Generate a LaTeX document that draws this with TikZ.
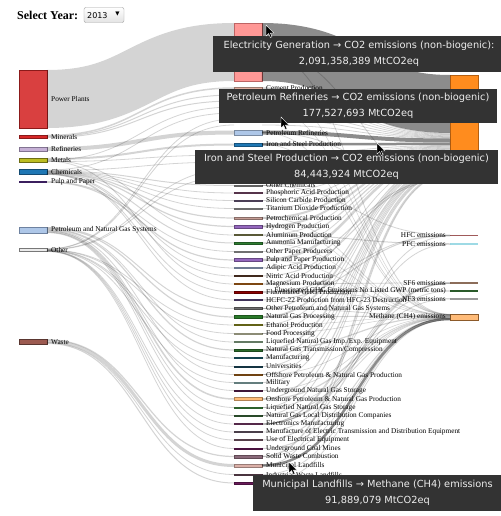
\documentclass[tikz,border=0pt]{standalone}
\usepackage{fontspec}
\setmainfont{Liberation Serif}
\newfontfamily\tipfont{DejaVu Sans}
\definecolor{tipbg}{HTML}{333333}
\tikzset{
  lnk/.style={draw=black, draw opacity=0.17},
  hl/.style={draw=black, draw opacity=0.45},
  nd/.style={rectangle, inner sep=0pt, outer sep=0pt, minimum width=28pt},
  lab/.style={font=\fontsize{7.3}{8}\selectfont, inner sep=0pt, anchor=west},
  rlab/.style={font=\fontsize{7.3}{8}\selectfont, inner sep=0pt, anchor=east},
  tip/.style={fill=tipbg, inner sep=0pt, align=center, text=white!93!black,
     font=\tipfont\fontsize{9.8}{16}\selectfont},
}
\newcommand\lkL[5][lnk]{\draw[#1, line width=#5pt] ([yshift=-#3pt]#2.north east) .. controls +(93.5,0) and +(-93.5,0) .. (#4.west);}
\newcommand\lkR[5][lnk]{\draw[#1, line width=#5pt] (#2.east) .. controls +(94,0) and +(-94,0) .. ([yshift=-#4pt]#3.north west);}
\newcommand\mycur[2]{\filldraw[fill=black, draw=white, line width=0.4pt, shift={(#1,#2)}] (0,0) -- (0,11) -- (2.6,8.5) -- (4.4,12.5) -- (6,11.8) -- (4.3,8) -- (7.8,8) -- cycle;}
\begin{document}
\begin{tikzpicture}[x=1pt,y=-1pt]
\useasboundingbox (0,0) rectangle (500,516);
\fill[white] (0,0) rectangle (500,516);

% ---------- header
\node[font=\bfseries\fontsize{12}{14}\selectfont, anchor=west, inner sep=0pt] (sel) at (17,15) {Select Year:};
\node[draw=gray!75, rounded corners=2pt, top color=white, bottom color=gray!22, minimum width=40pt, minimum height=15pt, inner sep=0pt] (yr) at (104,15) {};
\node[font=\tipfont\fontsize{8}{9}\selectfont, anchor=west, inner sep=0pt] (yrt) at (87,15.5) {2013};
\node[font=\tipfont\fontsize{5.5}{6}\selectfont, inner sep=0pt] (yra) at (117.5,14.5) {▼};

% ---------- left nodes
\node[nd, minimum height=58pt, fill={rgb,255:red,217;green,64;blue,64}, draw={rgb,255:red,139;green,26;blue,26}, line width=0.6pt] (pp) at (33,99) {};
\node[nd, minimum height=3pt, fill={rgb,255:red,214;green,39;blue,40}, draw={rgb,255:red,139;green,26;blue,26}, line width=0.4pt] (mnr) at (33,136.5) {};
\node[nd, minimum height=4pt, fill={rgb,255:red,197;green,176;blue,213}, draw={rgb,255:red,130;green,115;blue,145}, line width=0.4pt] (rfn) at (33,149) {};
\node[nd, minimum height=4pt, fill={rgb,255:red,188;green,189;blue,34}, draw={rgb,255:red,110;green,110;blue,20}, line width=0.4pt] (mtl) at (33,160) {};
\node[nd, minimum height=5pt, fill={rgb,255:red,31;green,119;blue,180}, draw={rgb,255:red,20;green,75;blue,115}, line width=0.4pt] (chm) at (33,172) {};
\node[nd, minimum height=1.5pt, fill={rgb,255:red,59;green,31;blue,94}] (pap) at (33,182) {};
\node[nd, minimum height=6pt, fill={rgb,255:red,174;green,199;blue,232}, draw={rgb,255:red,110;green,130;blue,160}, line width=0.4pt] (png) at (33,230) {};
\node[nd, minimum height=3pt, fill={rgb,255:red,235;green,235;blue,235}, draw={rgb,255:red,120;green,120;blue,120}, line width=0.5pt] (oth) at (33,250) {};
\node[nd, minimum height=4.5pt, fill={rgb,255:red,156;green,90;blue,80}, draw={rgb,255:red,90;green,54;blue,48}, line width=0.5pt] (wst) at (33,341.5) {};

% ---------- middle nodes (invisible helpers under the tooltips)
\foreach \nm/\y in {h95/95,h101/101,h107/107,h113/113,h119/119,h125/125,h155/155,h162/162,h169/169,h176/176}
  \node[nd, minimum height=1pt] (\nm) at (248,\y) {};
\node[nd, minimum height=58pt, fill={rgb,255:red,255;green,152;blue,150}, draw={rgb,255:red,190;green,100;blue,100}, line width=0.5pt] (elec) at (248,52) {};
\foreach \nm/\y/\hh/\cc in {
 cem/88/2.2/E0AFA0, pr/132.5/4.5/AEC7E8, is/144.5/2.5/1F77B4, oc/185.5/1.2/8C8C8C,
 phos/193/1.2/7B4A6B, sic/200.5/1.2/6B5A7B, tio/208.5/1.2/9A9A9A, pch/218/2.5/C49C94,
 hyd/226.5/2.5/9467BD, alu/235/1.2/7F7F4F, amm/243/1.5/2E7D32, opp/251.5/1.2/A0A0A0,
 ppp/260/3/9467BD, adi/268/1.2/9FB0D0, nit/276/1.2/5B3A29, mag/284/1.2/B3661A,
 fgp/292/1.5/8B0000, hcf/300/1.2/5B4A80, opn/308.5/2/6E6E6E, ngp/317/3/2A7A2A,
 eth/325/1.2/8C8C20, fpr/333.5/1.2/C8C8A8, lng/342/1.2/8FAE8F, ngt/350/2.5/2A6A2A,
 man/358/1.2/1D5E6E, uni/366.5/1.2/1D4A5E, off/374.5/1.2/A0601A, mil/382.5/1.2/8FB4B4,
 ugs/390.5/1.2/5A2050, ons/399/3/FFBB78, lns/407.5/1.2/3F8A3F, ldc/415.5/1.2/3A6A3A,
 elm/424/1.2/7A3A6A, etd/432/1.2/6A5A6A, uee/440/1.2/7A5A6A, ucm/448.5/1.5/6A1A5A,
 swc/456.5/2.5/8A6A7A, mlf/465.5/3/DBB0A8, iwl/474.5/1.2/6A4A5A, x483/483/1.5/6A1A5A}
 {
  \edef\tmp{\noexpand\definecolor{tmpc}{HTML}{\cc}}\tmp
  \node[nd, minimum height=\hh pt, fill=tmpc, draw=tmpc!70!black, line width=0.3pt] (\nm) at (248,\y) {};
 }

% ---------- right nodes
\node[nd, minimum height=100pt, fill={rgb,255:red,255;green,140;blue,30}, draw={rgb,255:red,179;green,95;blue,18}, line width=0.5pt] (co2) at (464,125) {};
\node[nd, minimum height=4pt] (n2o) at (464,180) {};
\node[nd, minimum height=1.5pt, fill={rgb,255:red,160;green,90;blue,90}] (hfc) at (464,235.5) {};
\node[nd, minimum height=1.5pt, fill={rgb,255:red,158;green,218;blue,229}] (pfc) at (464,244) {};
\node[nd, minimum height=1.2pt, fill={rgb,255:red,140;green,109;blue,90}] (sf6) at (464,283) {};
\node[nd, minimum height=1.2pt, fill={rgb,255:red,42;green,90;blue,42}] (fgw) at (464,291) {};
\node[nd, minimum height=1.2pt, fill={rgb,255:red,153;green,153;blue,153}] (nf3) at (464,299) {};

% ---------- links left -> middle
\lkL{pp}{29}{elec}{58}
\lkL{mnr}{0.5}{cem}{1.5} \lkL{mnr}{1.5}{h95}{1} \lkL{mnr}{2.5}{h101}{1}
\lkL{rfn}{2}{pr}{4}
\lkL{mtl}{1}{is}{2} \lkL{mtl}{2}{h107}{0.8} \lkL{mtl}{2.6}{alu}{0.8} \lkL{mtl}{3.2}{mag}{0.8} \lkL{mtl}{3.6}{h155}{0.8}
\lkL{chm}{0.5}{h113}{0.8} \lkL{chm}{1}{h162}{0.8} \lkL{chm}{1.5}{oc}{1} \lkL{chm}{2}{phos}{0.8}
\lkL{chm}{2.3}{sic}{0.8} \lkL{chm}{2.6}{tio}{0.8} \lkL{chm}{3}{pch}{1.2} \lkL{chm}{3.5}{hyd}{1.2}
\lkL{chm}{3.9}{amm}{1} \lkL{chm}{4.2}{adi}{0.8} \lkL{chm}{4.5}{nit}{0.8} \lkL{chm}{4.7}{fgp}{0.8} \lkL{chm}{4.9}{hcf}{0.8}
\lkL{pap}{0.5}{opp}{0.8} \lkL{pap}{1}{ppp}{1.2}
\lkL{png}{0.5}{opn}{1} \lkL{png}{1.2}{ngp}{1.2} \lkL{png}{2}{lng}{0.8} \lkL{png}{2.6}{ngt}{1.2}
\lkL{png}{3.3}{off}{0.8} \lkL{png}{3.9}{ugs}{0.8} \lkL{png}{4.5}{ons}{1.5} \lkL{png}{5.2}{lns}{0.8} \lkL{png}{5.7}{ldc}{0.8}
\lkL{oth}{0.3}{h119}{0.8} \lkL{oth}{0.6}{h125}{0.8} \lkL{oth}{0.9}{h169}{0.8} \lkL{oth}{1.2}{h176}{0.8}
\lkL{oth}{1.4}{eth}{0.8} \lkL{oth}{1.6}{fpr}{0.8} \lkL{oth}{1.8}{man}{0.8} \lkL{oth}{2}{uni}{0.8}
\lkL{oth}{2.2}{mil}{0.8} \lkL{oth}{2.4}{elm}{0.8} \lkL{oth}{2.6}{etd}{0.8} \lkL{oth}{2.8}{uee}{0.8} \lkL{oth}{3}{ucm}{0.8}
\lkL{wst}{0.5}{swc}{1.2} \lkL{wst}{2}{mlf}{3} \lkL{wst}{3.5}{iwl}{0.8} \lkL{wst}{4.2}{x483}{1}

% ---------- links middle -> right
\lkR[hl]{elec}{co2}{29}{58}
\lkR{cem}{co2}{58.6}{1.2}
\lkR{h95}{co2}{59.5}{0.8} \lkR{h101}{co2}{60.3}{0.8} \lkR{h107}{co2}{61}{0.8}
\lkR{h113}{co2}{61.7}{0.8} \lkR{h119}{co2}{62.4}{0.8} \lkR{h125}{co2}{63}{0.8}
\lkR[hl]{pr}{co2}{65.5}{4}
\lkR[hl]{is}{co2}{68.8}{2.5}
\lkR{h155}{co2}{70.5}{0.8} \lkR{h162}{co2}{71.3}{0.8} \lkR{h169}{co2}{72}{0.8} \lkR{h176}{co2}{72.7}{0.8}
\lkR{oc}{co2}{73.5}{1} \lkR{phos}{co2}{74.3}{0.8} \lkR{sic}{co2}{75}{0.8} \lkR{tio}{co2}{75.7}{0.8}
\lkR{pch}{co2}{77}{2} \lkR{hyd}{co2}{79}{2} \lkR{alu}{co2}{80.5}{0.8} \lkR{amm}{co2}{81.5}{1.2}
\lkR{opp}{co2}{82.5}{0.8} \lkR{ppp}{co2}{84}{2.5} \lkR{mag}{co2}{85.5}{0.8} \lkR{opn}{co2}{86.5}{1}
\lkR{ngp}{co2}{88}{1.8} \lkR{eth}{co2}{89.3}{0.8} \lkR{fpr}{co2}{90}{0.8} \lkR{ngt}{co2}{91.2}{1.5}
\lkR{man}{co2}{92.3}{0.8} \lkR{uni}{co2}{93}{0.8} \lkR{off}{co2}{93.7}{0.8} \lkR{mil}{co2}{94.4}{0.8}
\lkR{ons}{co2}{95.5}{1.2} \lkR{lns}{co2}{96.5}{0.8} \lkR{ldc}{co2}{97.2}{0.8} \lkR{swc}{co2}{98.3}{1.5} \lkR{mlf}{co2}{99.3}{0.8}
\lkR{adi}{n2o}{0.5}{1} \lkR{nit}{n2o}{1.5}{1} \lkR{elec}{n2o}{2.5}{0.8} \lkR{pr}{n2o}{3}{0.8}
\lkR{oc}{hfc}{0.3}{0.8} \lkR{fgp}{hfc}{0.6}{0.8} \lkR{hcf}{hfc}{0.9}{1} \lkR{elm}{hfc}{1.2}{0.8}
\lkR{alu}{pfc}{0.5}{1} \lkR{elm}{pfc}{1}{0.8}
\lkR{mag}{sf6}{0.3}{0.8} \lkR{elm}{sf6}{0.5}{0.8} \lkR{etd}{sf6}{0.8}{0.8} \lkR{uee}{sf6}{1}{1}
\lkR{fgp}{fgw}{0.4}{0.8} \lkR{elm}{fgw}{0.8}{0.8}
\lkR{fgp}{nf3}{0.3}{0.6} \lkR{elm}{nf3}{0.6}{0.8}
\node[nd, minimum height=6pt, fill={rgb,255:red,255;green,187;blue,120}, draw={rgb,255:red,140;green,90;blue,42}, line width=0.5pt] (ch4) at (464,317) {};
\lkR{elec}{ch4}{0.3}{0.8} \lkR{pr}{ch4}{0.6}{0.6} \lkR{is}{ch4}{0.8}{0.6} \lkR{cem}{ch4}{0.4}{0.5}
\lkR{h107}{ch4}{0.5}{0.5} \lkR{pch}{ch4}{1}{0.6} \lkR{hyd}{ch4}{1.05}{0.5} \lkR{amm}{ch4}{1.1}{0.5}
\lkR{ppp}{ch4}{1.2}{0.6} \lkR{opn}{ch4}{1.5}{0.8} \lkR{ngp}{ch4}{1.9}{1} \lkR{fpr}{ch4}{2.1}{0.6}
\lkR{eth}{ch4}{2.2}{0.5} \lkR{ngt}{ch4}{2.5}{1.2} \lkR{off}{ch4}{2.8}{0.6} \lkR{ugs}{ch4}{3}{0.6}
\lkR{ons}{ch4}{3.5}{1.2} \lkR{lns}{ch4}{3.8}{0.5} \lkR{ldc}{ch4}{4}{0.8} \lkR{ucm}{ch4}{4.4}{1}
\lkR{swc}{ch4}{4.7}{0.6} \lkR[hl]{mlf}{ch4}{5}{2.5} \lkR{iwl}{ch4}{5.5}{0.8} \lkR{x483}{ch4}{5.8}{0.8}

% ---------- labels
\node[lab] (lpp) at (51,99) {Power Plants};
\node[lab] (lmnr) at (51,136.8) {Minerals};
\node[lab] (lrfn) at (51,148.5) {Refineries};
\node[lab] (lmtl) at (51,160) {Metals};
\node[lab] (lchm) at (51,172) {Chemicals};
\node[lab] (lpap) at (51,182) {Pulp and Paper};
\node[lab] (lpng) at (51,230) {Petroleum and Natural Gas Systems};
\node[lab] (loth) at (51,250) {Other};
\node[lab] (lwst) at (51,342) {Waste};
\foreach \nm/\y/\tx in {
 cem/88/Cement Production, pr/132.5/Petroleum Refineries, is/144.5/Iron and Steel Production,
 oc/185.5/Other Chemicals, phos/193/Phosphoric Acid Production, sic/200.5/Silicon Carbide Production,
 tio/208.5/Titanium Dioxide Production, pch/218/Petrochemical Production, hyd/226.5/Hydrogen Production,
 alu/235/Aluminum Production, amm/243/Ammonia Manufacturing, opp/251.5/Other Paper Producers,
 ppp/260/Pulp and Paper Production, adi/268/Adipic Acid Production, nit/276/Nitric Acid Production,
 mag/284/Magnesium Production, fgp/292/Fluorinated GHG Production,
 hcf/300/HCFC-22 Production from HFC-23 Destruction, opn/308.5/Other Petroleum and Natural Gas Systems,
 ngp/317/Natural Gas Processing, eth/325/Ethanol Production, fpr/333.5/Food Processing,
 lng/342/Liquefied Natural Gas Imp.\slash Exp. Equipment, ngt/350/Natural Gas Transmission\slash Compression,
 man/358/Manufacturing, uni/366.5/Universities, off/374.5/Offshore Petroleum \& Natural Gas Production,
 mil/382.5/Military, ugs/390.5/Underground Natural Gas Storage, ons/399/Onshore Petroleum \& Natural Gas Production,
 lns/407.5/Liquefied Natural Gas Storage, ldc/415.5/Natural Gas Local Distribution Companies,
 elm/424/Electronics Manufacturing, etd/432/Manufacture of Electric Transmission and Distribution Equipment,
 uee/440/Use of Electrical Equipment, ucm/448.5/Underground Coal Mines, swc/456.5/Solid Waste Combustion,
 mlf/465.5/Municipal Landfills, iwl/474.5/Industrial Waste Landfills}
 { \node[lab] (l\nm) at (266,\y) {\tx}; }
\node[rlab] (lhfc) at (446,235.5) {HFC emissions};
\node[rlab] (lpfc) at (446,244) {PFC emissions};
\node[rlab] (lsf6) at (446,283) {SF6 emissions};
\node[rlab] (lfgw) at (446,291) {Fluorinated GHG Emissions No Listed GWP (metric tons)};
\node[rlab] (lnf3) at (446,299) {NF3 emissions};
\node[rlab] (lch4) at (446,317) {Methane (CH4) emissions};

% ---------- tooltips
\node[tip, minimum width=292pt, minimum height=36pt] (t1) at (359,54) {Electricity Generation → CO2 emissions (non-biogenic):\\2,091,358,389 MtCO2eq};
\node[tip, minimum width=278pt, minimum height=34pt] (t2) at (358,106) {Petroleum Refineries → CO2 emissions (non-biogenic)\\177,527,693 MtCO2eq};
\node[tip, minimum width=303pt, minimum height=34pt] (t3) at (346.5,167) {Iron and Steel Production → CO2 emissions (non-biogenic)\\84,443,924 MtCO2eq};
\node[tip, minimum width=249pt, minimum height=36pt] (t4) at (377.5,493) {Municipal Landfills → Methane (CH4) emissions\\91,889,079 MtCO2eq};

% ---------- mouse pointers
\mycur{266}{25}
\mycur{281}{117}
\mycur{377}{143}
\mycur{289}{462}
\end{tikzpicture}
\end{document}
